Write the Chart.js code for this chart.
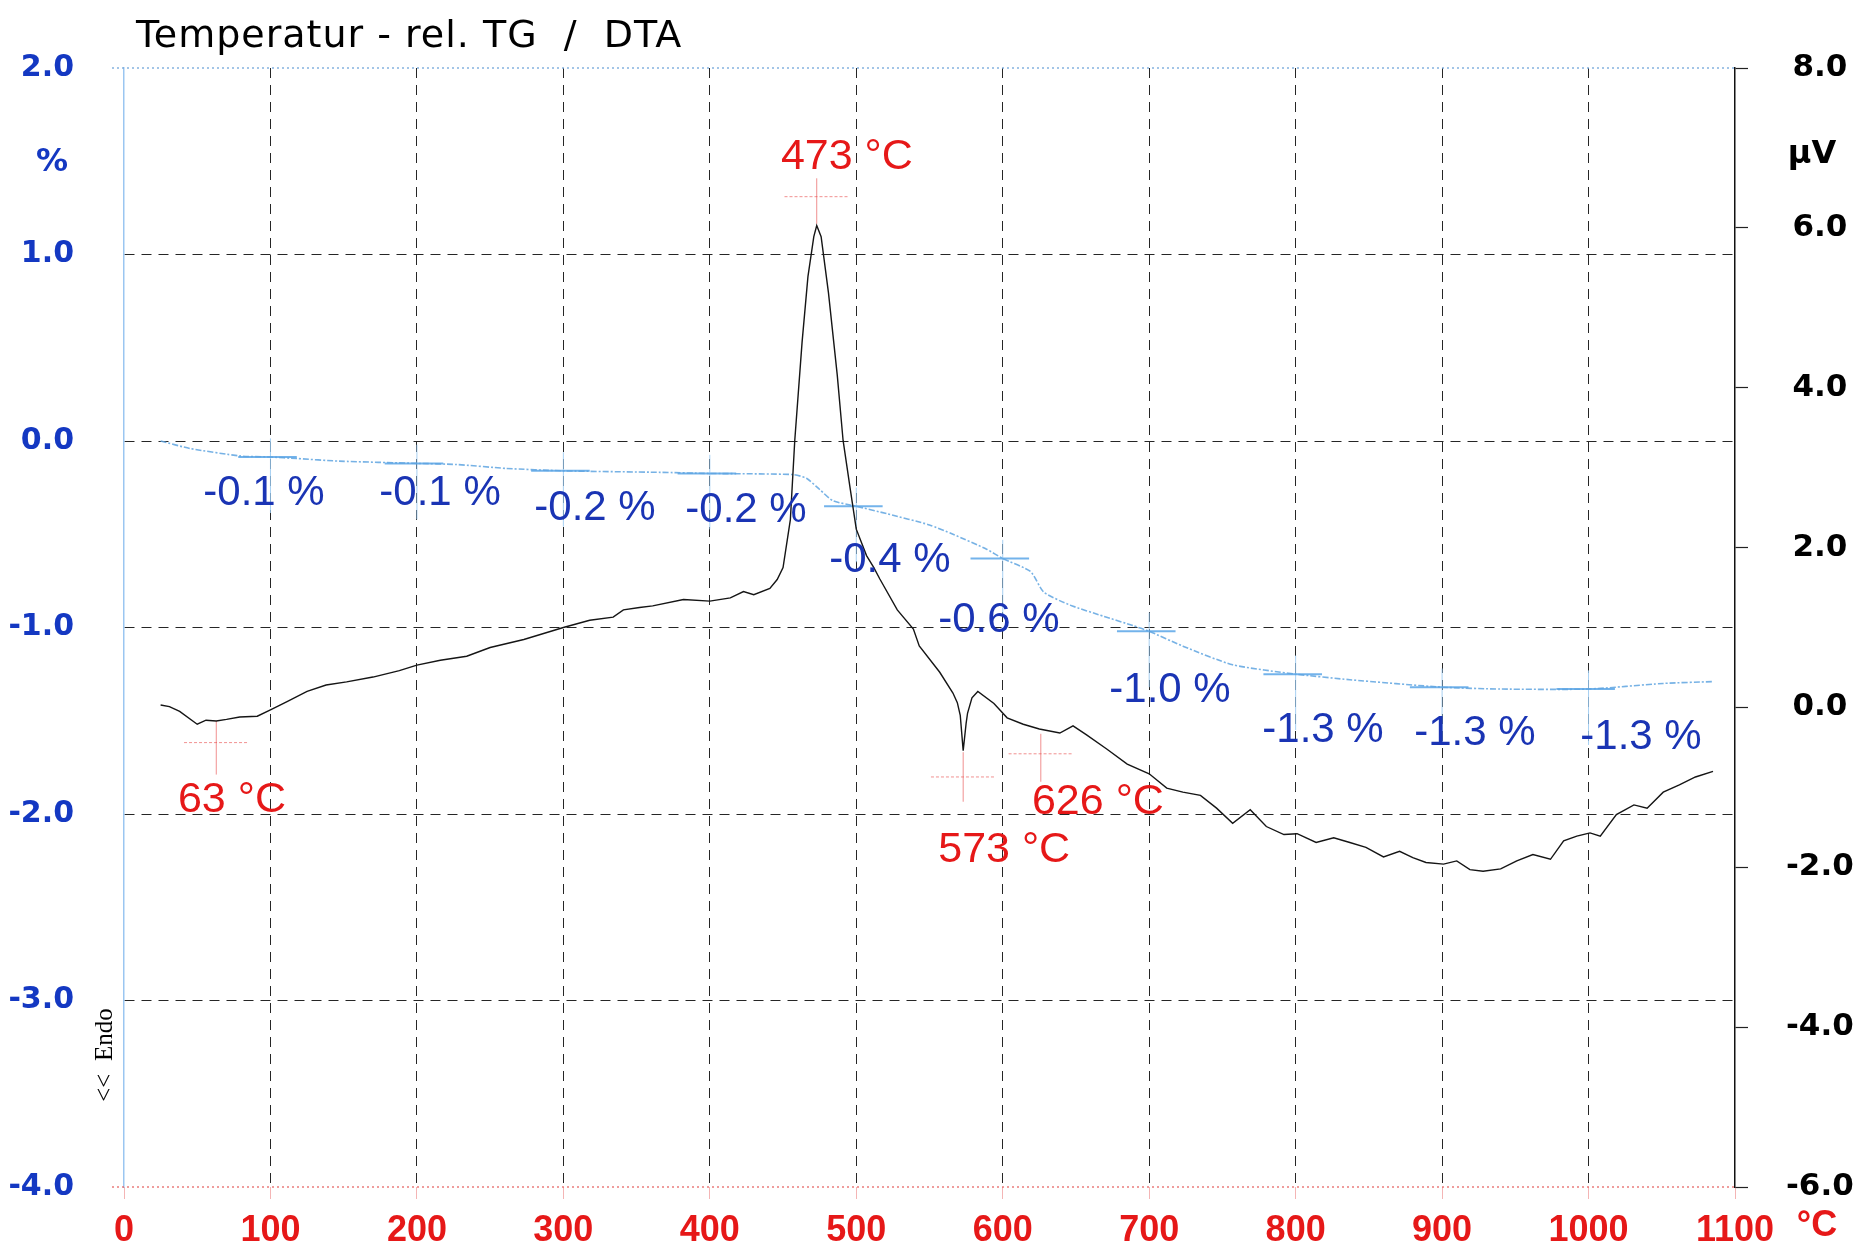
<!DOCTYPE html>
<html>
<head>
<meta charset="utf-8">
<script src="https://cdn.jsdelivr.net/npm/chart.js@4.4.1/dist/chart.umd.min.js"></script>
<style>
  html, body { margin: 0; padding: 0; background: #fff; }
  #wrap { width: 1865px; height: 1255px; position: relative; }
</style>
</head>
<body>
<div id="wrap"><canvas id="chart"></canvas></div>
<script>
// DTA signal, right axis (µV)
const dtaTemps = [25, 31, 38, 50, 56, 63, 70, 79, 91, 100, 111, 125, 138, 152, 170, 188, 200, 216, 234, 250,
  273, 300, 318, 334, 341, 352, 361, 382, 400, 414, 423, 430, 441, 446, 450, 455, 458, 463, 467, 471,
  473, 476, 481, 487, 491, 496, 500, 507, 512, 516, 528, 539, 543, 557, 566, 569, 571, 573, 575, 576,
  579, 583, 594, 603, 614, 625, 639, 648, 657, 671, 685, 700, 712, 723, 735, 746, 757, 769, 780, 792,
  801, 814, 826, 837, 848, 860, 871, 880, 889, 901, 910, 919, 928, 940, 951, 962, 974, 983, 992, 1001,
  1008, 1019, 1031, 1040, 1051, 1062, 1073, 1085];
const dtaValues = [0.03, 0.01, -0.05, -0.21, -0.16, -0.17, -0.15, -0.12, -0.11, -0.03, 0.07, 0.2, 0.28, 0.32, 0.38, 0.46, 0.53, 0.59, 0.64, 0.75,
  0.85, 1.0, 1.09, 1.13, 1.22, 1.25, 1.27, 1.35, 1.33, 1.37, 1.45, 1.41, 1.49, 1.6, 1.75, 2.35, 3.34, 4.57, 5.39, 5.89,
  6.03, 5.89, 5.19, 4.16, 3.34, 2.72, 2.23, 1.9, 1.75, 1.61, 1.22, 0.98, 0.77, 0.44, 0.18, 0.06, -0.1, -0.54, -0.2, -0.07,
  0.12, 0.2, 0.05, -0.13, -0.21, -0.27, -0.32, -0.23, -0.34, -0.52, -0.71, -0.83, -1.01, -1.06, -1.1, -1.26, -1.45, -1.28, -1.49, -1.59,
  -1.58, -1.69, -1.63, -1.69, -1.75, -1.87, -1.8, -1.88, -1.94, -1.96, -1.92, -2.03, -2.05, -2.02, -1.92, -1.84, -1.9, -1.67, -1.61, -1.57,
  -1.61, -1.34, -1.22, -1.26, -1.06, -0.97, -0.87, -0.8];

// relative TG, left axis (%)
const tgTemps = [25, 45, 79, 100, 118, 147, 200, 227, 261, 300, 366, 400, 457, 466, 475, 484, 500, 521, 550, 566,
  589, 600, 619, 628, 646, 669, 689, 700, 723, 757, 800, 837, 900, 940, 1000, 1051, 1085];
const tgValues = [0.0, -0.04, -0.08, -0.086, -0.094, -0.108, -0.12, -0.126, -0.147, -0.16, -0.168, -0.174, -0.18, -0.2, -0.26, -0.32, -0.35, -0.39, -0.45, -0.5,
  -0.58, -0.63, -0.7, -0.81, -0.88, -0.94, -0.99, -1.02, -1.1, -1.2, -1.25, -1.28, -1.32, -1.33, -1.33, -1.3, -1.29];

// TG readings every 100 °C
const stepTemps = [100, 200, 300, 400, 500, 600, 700, 800, 900, 1000];
const stepValues = [-0.086, -0.12, -0.16, -0.174, -0.35, -0.63, -1.02, -1.25, -1.32, -1.33];
const stepLabels = ['-0.1 %', '-0.1 %', '-0.2 %', '-0.2 %', '-0.4 %', '-0.6 %', '-1.0 %', '-1.3 %', '-1.3 %', '-1.3 %'];

// DTA peak temperatures
const peakTemps = [63, 473, 573, 626];
const peakLabels = ['63 °C', '473 °C', '573 °C', '626 °C'];

// axis ticks
const tempTicks = [0, 100, 200, 300, 400, 500, 600, 700, 800, 900, 1000, 1100];
const pctTicks = [2, 1, 0, -1, -2, -3, -4];
const uvTicks = [8, 6, 4, 2, 0, -2, -4, -6];

// where the annotations sit (layout only)
const stepLabelPos = [[95.6, -0.283], [215.8, -0.283], [321.6, -0.362], [424.7, -0.373], [523, -0.638],
  [597.4, -0.96], [714.2, -1.336], [818.7, -1.55], [922.4, -1.566], [1035.8, -1.587]];
const peakMark = [[-0.44, -0.17, -0.84], [6.39, 6.62, 6.05], [-0.87, -0.56, -1.18], [-0.58, -0.33, -0.93]];
const peakLabelPos = [[73.7, -1.16], [493.6, 6.88], [601, -1.79], [665, -1.19]];

const BLUE = '#1438c2';
const RED = '#e61818';
const TEXT_BLUE = '#1a34b4';

const overlay = {
  id: 'overlay',
  beforeDatasetsDraw(chart) {
    const { ctx } = chart;
    const x = chart.scales.x, yl = chart.scales.y, yr = chart.scales.y2;
    ctx.save();
    // top and bottom frame lines
    ctx.lineWidth = 1.5;
    ctx.setLineDash([2, 3]);
    ctx.strokeStyle = 'rgba(120,170,220,0.9)';
    ctx.beginPath();
    ctx.moveTo(x.left - 12, yl.getPixelForValue(2));
    ctx.lineTo(x.right, yl.getPixelForValue(2));
    ctx.stroke();
    ctx.strokeStyle = 'rgba(230,90,90,0.8)';
    ctx.beginPath();
    ctx.moveTo(x.left - 12, yl.getPixelForValue(-4));
    ctx.lineTo(x.right, yl.getPixelForValue(-4));
    ctx.stroke();

    // TG step markers
    stepTemps.forEach((t, i) => {
      const v = stepValues[i];
      const px = x.getPixelForValue(t);
      ctx.setLineDash([]);
      ctx.strokeStyle = 'rgba(150,200,240,0.85)';
      ctx.lineWidth = 1;
      ctx.beginPath();
      ctx.moveTo(px, yl.getPixelForValue(v + 0.1));
      ctx.lineTo(px, yl.getPixelForValue(v - 0.3));
      ctx.stroke();
      ctx.strokeStyle = 'rgba(80,160,230,0.8)';
      ctx.lineWidth = 2;
      ctx.beginPath();
      ctx.moveTo(x.getPixelForValue(t - 22), yl.getPixelForValue(v));
      ctx.lineTo(x.getPixelForValue(t + 18), yl.getPixelForValue(v));
      ctx.stroke();
    });

    // DTA peak crosshairs
    peakTemps.forEach((t, i) => {
      const [mid, top, bot] = peakMark[i];
      const px = x.getPixelForValue(t);
      ctx.strokeStyle = 'rgba(230,70,70,0.6)';
      ctx.lineWidth = 1;
      ctx.setLineDash([]);
      ctx.beginPath();
      ctx.moveTo(px, yr.getPixelForValue(top));
      ctx.lineTo(px, yr.getPixelForValue(bot));
      ctx.stroke();
      ctx.setLineDash([3, 2]);
      ctx.beginPath();
      ctx.moveTo(x.getPixelForValue(t - 22), yr.getPixelForValue(mid));
      ctx.lineTo(x.getPixelForValue(t + 22), yr.getPixelForValue(mid));
      ctx.stroke();
    });
    ctx.restore();
  },
  afterDraw(chart) {
    const { ctx, chartArea } = chart;
    const x = chart.scales.x, yl = chart.scales.y, yr = chart.scales.y2;
    ctx.save();
    ctx.textAlign = 'center';
    ctx.textBaseline = 'middle';

    ctx.font = '42px "Liberation Sans", Arial, sans-serif';
    ctx.fillStyle = TEXT_BLUE;
    stepLabels.forEach((s, i) => {
      const [t, v] = stepLabelPos[i];
      ctx.fillText(s, x.getPixelForValue(t), yl.getPixelForValue(v));
    });

    ctx.font = '43px "Liberation Sans", Arial, sans-serif';
    ctx.fillStyle = RED;
    peakLabels.forEach((s, i) => {
      const [t, v] = peakLabelPos[i];
      ctx.fillText(s, x.getPixelForValue(t), yr.getPixelForValue(v));
    });

    // unit labels
    ctx.font = 'bold 32px "DejaVu Sans", sans-serif';
    ctx.fillStyle = BLUE;
    ctx.fillText('%', chartArea.left - 72, chartArea.top + 95);
    ctx.font = 'bold 32px "DejaVu Sans", sans-serif';
    ctx.fillStyle = '#000';
    ctx.fillText('µV', chartArea.right + 77, chartArea.top + 87);
    ctx.font = 'bold 36px "Liberation Sans", Arial, sans-serif';
    ctx.fillStyle = RED;
    ctx.fillText('°C', chartArea.right + 82, chartArea.bottom + 39);

    // endo marker
    ctx.save();
    ctx.translate(chartArea.left - 19, chartArea.bottom - 132);
    ctx.rotate(-Math.PI / 2);
    ctx.font = '25px "Liberation Serif", "DejaVu Serif", serif';
    ctx.fillStyle = '#000';
    ctx.fillText('<<  Endo', 0, 0);
    ctx.restore();

    // title
    ctx.textAlign = 'left';
    ctx.textBaseline = 'alphabetic';
    ctx.font = '38px "DejaVu Sans", sans-serif';
    ctx.letterSpacing = '1px';
    ctx.fillStyle = '#000';
    ctx.fillText('Temperatur - rel. TG  /  DTA', 136, 47);
    ctx.restore();
  }
};

const gridDash = [10, 7];

new Chart(document.getElementById('chart'), {
  type: 'line',
  data: {
    datasets: [
      {
        label: 'DTA',
        data: dtaTemps.map((t, i) => ({ x: t, y: dtaValues[i] })),
        yAxisID: 'y2',
        borderColor: '#151515',
        borderWidth: 1.4,
        pointRadius: 0,
        tension: 0
      },
      {
        label: 'TG',
        data: tgTemps.map((t, i) => ({ x: t, y: tgValues[i] })),
        yAxisID: 'y',
        borderColor: 'rgba(95,165,225,0.85)',
        borderWidth: 1.6,
        borderDash: [6, 2, 2, 2],
        pointRadius: 0,
        tension: 0.2
      }
    ]
  },
  options: {
    responsive: true,
    maintainAspectRatio: false,
    animation: false,
    layout: { padding: { top: 62, left: 0, right: 0, bottom: 0 } },
    plugins: { legend: { display: false }, tooltip: { enabled: false }, title: { display: false } },
    scales: {
      x: {
        type: 'linear',
        min: 0,
        max: 1100,
        afterBuildTicks: (s) => { s.ticks = tempTicks.map(v => ({ value: v })); },
        afterFit: (s) => { s.height = 57; },
        grid: {
          color: (c) => (c.tick && (c.tick.value === 0 || c.tick.value === 1100)) ? 'rgba(0,0,0,0)' : 'rgba(0,0,0,0.85)',
          lineWidth: 1,
          drawTicks: true,
          tickLength: 12,
          tickColor: 'rgba(230,90,90,0.45)'
        },
        border: { display: false, dash: gridDash },
        ticks: {
          autoSkip: false,
          maxRotation: 0,
          padding: 10,
          color: RED,
          font: { family: '"Liberation Sans", Arial, sans-serif', size: 36, weight: 'bold' },
          callback: (v) => String(v)
        }
      },
      y: {
        position: 'left',
        min: -4,
        max: 2,
        afterBuildTicks: (s) => { s.ticks = pctTicks.map(v => ({ value: v })); },
        afterFit: (s) => { s.width = 124; },
        grid: {
          color: (c) => (c.tick && (c.tick.value === 2 || c.tick.value === -4)) ? 'rgba(0,0,0,0)' : 'rgba(0,0,0,0.85)',
          lineWidth: 1,
          drawTicks: false
        },
        border: { display: true, color: 'rgba(150,195,240,0.95)', width: 1.5, dash: gridDash },
        ticks: {
          padding: 50,
          color: BLUE,
          font: { family: '"DejaVu Sans", sans-serif', size: 30, weight: 'bold' },
          callback: (v) => Number(v).toFixed(1)
        }
      },
      y2: {
        position: 'right',
        min: -6,
        max: 8,
        afterBuildTicks: (s) => { s.ticks = uvTicks.map(v => ({ value: v })); },
        afterFit: (s) => { s.width = 130; },
        grid: {
          drawOnChartArea: false,
          drawTicks: true,
          tickLength: 13,
          tickColor: '#222',
          tickWidth: 1.2
        },
        border: { display: true, color: '#111', width: 1.5 },
        ticks: {
          crossAlign: 'center',
          padding: 38,
          color: '#000',
          font: { family: '"DejaVu Sans", sans-serif', size: 31, weight: 'bold' },
          callback: (v) => Number(v).toFixed(1)
        }
      }
    }
  },
  plugins: [overlay]
});
</script>
</body>
</html>
